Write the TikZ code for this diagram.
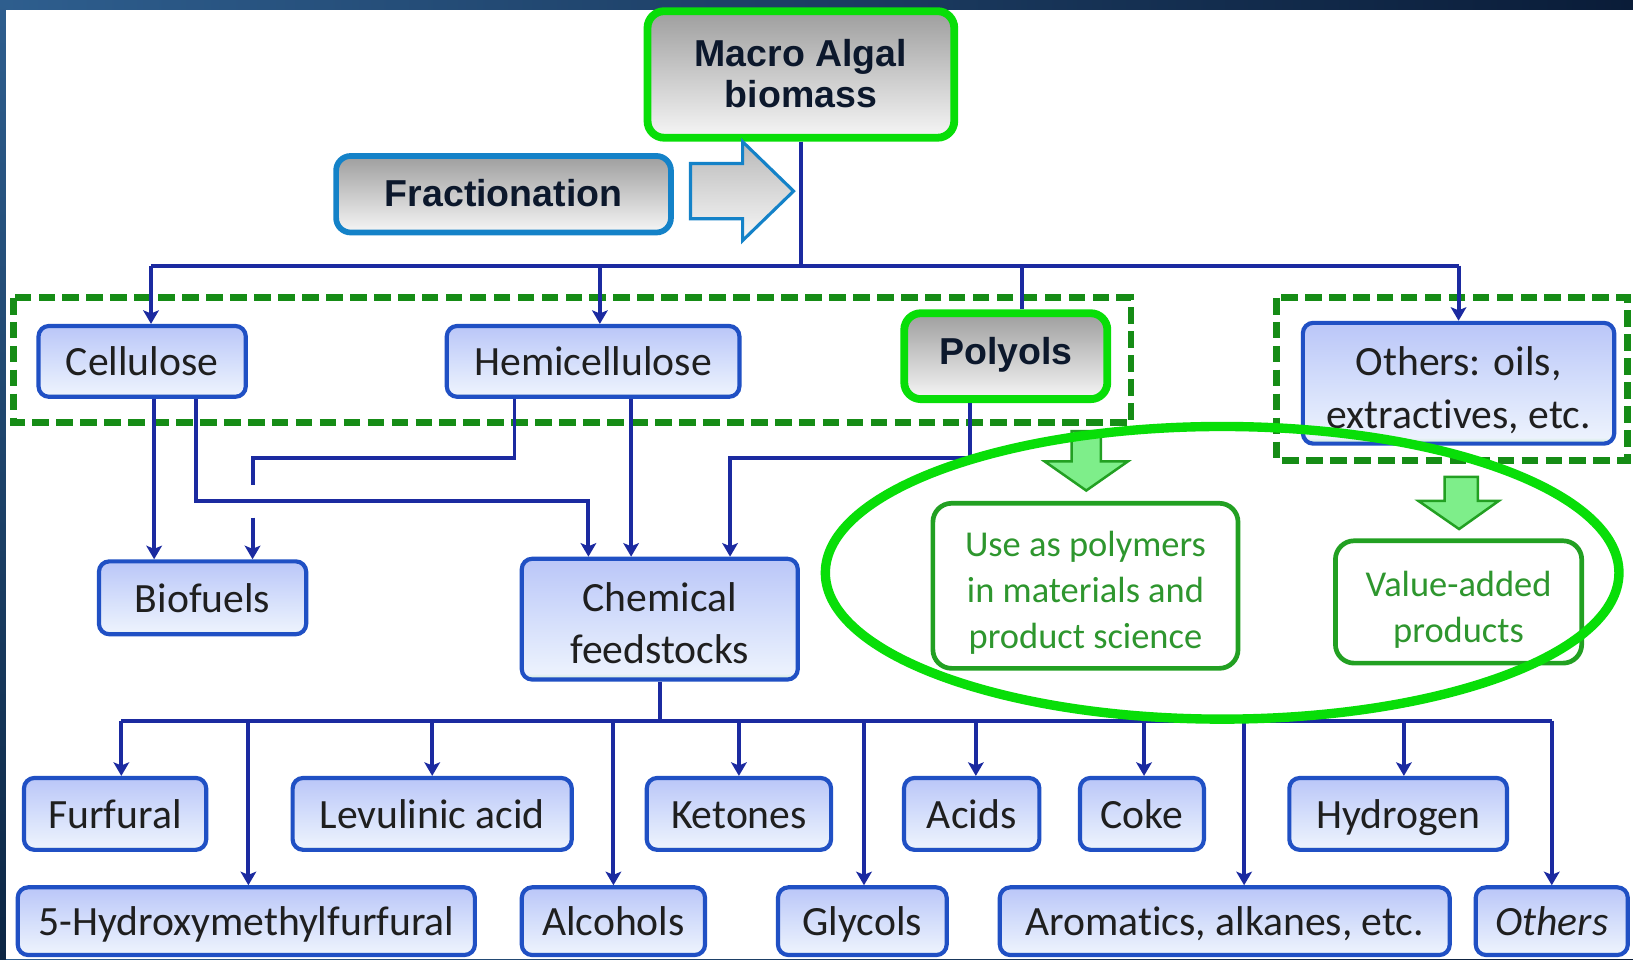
\documentclass[tikz,border=0pt]{standalone}
\usepackage{fontspec}
\setmainfont{Carlito}[Ligatures={NoCommon}]
\newfontfamily\arialf{Liberation Sans}
\usetikzlibrary{arrows.meta,calc}

\definecolor{connc}{RGB}{27,42,160}
\definecolor{bxborder}{RGB}{32,80,196}
\definecolor{bxtop}{RGB}{186,198,248}
\definecolor{bxmid}{RGB}{212,222,251}
\definecolor{bxbot}{RGB}{236,242,253}
\definecolor{bxgreen}{RGB}{196,234,206}
\definecolor{dashgreen}{RGB}{22,140,22}
\definecolor{brightgreen}{RGB}{8,222,8}
\definecolor{greentxt}{RGB}{46,150,46}
\definecolor{graytop}{RGB}{158,158,158}
\definecolor{graybot}{RGB}{246,246,246}
\definecolor{fracblue}{RGB}{20,130,200}
\definecolor{navytxt}{RGB}{12,24,44}
\definecolor{arrfill}{RGB}{126,238,138}
\definecolor{arrdraw}{RGB}{34,160,34}
\definecolor{bgL}{RGB}{46,94,142}
\definecolor{bgR}{RGB}{10,28,56}
\definecolor{bgB}{RGB}{12,38,68}

\pgfdeclareverticalshading{bluebx}{100bp}{color(0bp)=(bxgreen); color(25bp)=(bxgreen); color(27.5bp)=(bxbot); color(50bp)=(bxmid); color(75bp)=(bxtop); color(100bp)=(bxtop)}

\newcommand\bxnode[8]{%
  \pgfmathsetmacro\bxw{(#6-#4-#3)*0.5}%
  \pgfmathsetmacro\bxh{(#7-#5-#3)*0.5}%
  \node[#1, minimum width=\bxw pt, minimum height=\bxh pt] (#2) at ({(#4+#6)/2},{(#5+#7)/2}) {#8};}
% first-line strut that lowers the text block by #1
\newcommand\fl[1]{\rule{0pt}{\dimexpr 0.7\baselineskip+#1*2\relax}}

\tikzset{
  one/.style={execute at begin node={\fl{#1}}, execute at end node={\strut}},
  bluebox/.style={draw=bxborder, line width=2pt, rounded corners=5pt, shading=bluebx,
    font=\fontsize{20}{25}\selectfont, text=black!88, align=center, inner sep=0pt},
  graybox/.style={draw=brightgreen, line width=3.75pt, rounded corners=8pt,
    top color=graytop, bottom color=graybot,
    font=\arialf\bfseries\fontsize{18}{20}\selectfont, text=navytxt, align=center, inner sep=0pt},
  fracbox/.style={graybox, draw=fracblue, line width=2.75pt, rounded corners=7pt},
  greenbox/.style={draw=arrdraw, line width=2.25pt, rounded corners=9pt, fill=white,
    text=greentxt, font=\fontsize{17.5}{22}\selectfont, align=center, inner sep=0pt},
  blue1/.style={bluebox, one=2pt},
  groupbox/.style={draw=dashgreen, line width=3.25pt, dash pattern=on 8pt off 3.5pt},
  conn/.style={draw=connc, line width=1.9pt},
  arr/.style={conn, -{Stealth[length=6.5pt,width=7.5pt,inset=1.5pt]}},
  halo/.style={draw=brightgreen, line width=4.5pt},
  blockarr/.style={draw=fracblue, line width=1.5pt, top color=gray!55, bottom color=gray!6},
  greenarr/.style={draw=arrdraw, line width=1.2pt, fill=arrfill},
}

\begin{document}
\begin{tikzpicture}[x=0.5pt,y=-0.5pt]
\useasboundingbox (0,0) rectangle (1568,921);
% slide background
\fill[left color=bgL, right color=bgR] (0,0) rectangle (1568,921);
\fill[top color=bgL, bottom color=bgB] (0,0) rectangle (6,921);
\fill[white] (6,9.6) rectangle (1568,921);

% dashed group frames
\draw[groupbox] (13,286) rectangle (1086,406);
\draw[groupbox] (1226,286) rectangle (1563,442);

% nodes
\bxnode{graybox}{macro}{7.5}{618}{7}{920}{136}{\fl{2pt}Macro Algal\\biomass\strut}
\bxnode{fracbox,one=2pt}{frac}{5.5}{320}{147}{647}{226}{Fractionation}
\bxnode{blue1}{cell}{4}{35}{311}{238}{383}{Cellulose}
\bxnode{blue1}{hemi}{4}{427}{311}{712}{383}{Hemicellulose}
\bxnode{graybox,one=0pt}{poly}{7.5}{864.5}{297}{1067}{387}{Polyols}
\bxnode{bluebox}{oth}{4}{1249}{310}{1552}{426}{\fl{4pt}Others: oils,\\extractives, etc.\strut}
\bxnode{blue1}{bio}{4}{93}{537}{296}{611}{Biofuels}
\bxnode{bluebox}{chem}{4}{499}{537}{768}{652}{\fl{4pt}Chemical\\feedstocks\strut}
\bxnode{greenbox}{use}{4.5}{893.5}{481}{1191}{644}{\fl{3.5pt}Use as polymers\\in materials and\\product science\strut}
\bxnode{greenbox}{val}{4.5}{1280}{517}{1521}{639}{\fl{4pt}Value-added\\products\strut}
\bxnode{blue1}{furf}{4}{21}{745}{200}{818}{Furfural}
\bxnode{blue1}{lev}{4}{279}{745}{551}{818}{Levulinic acid}
\bxnode{blue1}{ket}{4}{619}{745}{800}{818}{Ketones}
\bxnode{blue1}{acid}{4}{866}{745}{1000}{818}{Acids}
\bxnode{blue1}{coke}{4}{1035}{745}{1158}{818}{Coke}
\bxnode{blue1}{hyd}{4}{1236}{745}{1449}{818}{Hydrogen}
\bxnode{blue1}{hmf}{4}{15}{850}{458}{919}{5-Hydroxymethylfurfural}
\bxnode{blue1}{alc}{4}{499}{850}{679}{919}{Alcohols}
\bxnode{blue1}{gly}{4}{745}{850}{911}{919}{Glycols}
\bxnode{blue1}{aro}{4}{958}{850}{1394}{919}{Aromatics, alkanes, etc.}
\bxnode{blue1}{othr}{4}{1415}{850}{1565}{919}{\itshape Others}

% fractionation block arrow
\draw[blockarr] (663,157) -- (713,157) -- (713,136) -- (762,183.5) -- (713,231) -- (713,210) -- (663,210) -- cycle;

% top distribution
\coordinate (j0) at (769,255);
\coordinate (cellin) at ([xshift=4.25pt]cell.north);
\coordinate (hemiin) at ([xshift=3.25pt]hemi.north);
\coordinate (polyin) at ([xshift=7.6pt]poly.north);
\draw[conn] (macro.south) -- (j0);
\draw[conn] (cellin |- j0) -- (oth.north |- j0);
\draw[arr] (cellin |- j0) -- (cellin);
\draw[arr] (hemiin |- j0) -- (hemiin);
\draw[conn] (polyin |- j0) -- (polyin);
\draw[arr] (oth.north |- j0) -- (oth.north);

% second level
\coordinate (r1) at (0,481);
\coordinate (r2) at (0,439.6);
\coordinate (r3) at (0,466);
\coordinate (r4) at (0,497);
\coordinate (cellA) at ([xshift=5.75pt]cell.south);
\coordinate (cellB) at ([xshift=25.75pt]cell.south);
\coordinate (hemiA) at ([xshift=-37.75pt]hemi.south);
\coordinate (hemiB) at ([xshift=18.25pt]hemi.south);
\coordinate (polyA) at ([xshift=-17.4pt]poly.south);
\coordinate (bioB) at ([xshift=24pt]bio.north);
\coordinate (chemA) at ([xshift=-34.25pt]chem.north);
\coordinate (chemC) at ([xshift=33.75pt]chem.north);
\draw[arr] (cellA) -- (cellA |- bio.north);
\draw[conn] (hemiA) |- (bioB |- r2) -- (bioB |- r3);
\draw[arr] (bioB |- r4) -- (bioB);
\draw[arr] (cellB) |- (chemA |- r1) -- (chemA);
\draw[arr] (hemiB) -- (hemiB |- chem.north);
\draw[arr] (polyA) |- (chemC |- r2) -- (chemC);

% product level
\coordinate (j1) at (635,692);
\coordinate (furfin) at ([xshift=3pt]furf.north);
\coordinate (hmfin) at ([xshift=1pt]hmf.north);
\coordinate (glyin) at ([xshift=0.8pt]gly.north);
\coordinate (acidin) at ([xshift=2pt]acid.north);
\coordinate (cokein) at ([xshift=1pt]coke.north);
\coordinate (aroin) at ([xshift=9.3pt]aro.north);
\coordinate (hydin) at ([xshift=2.75pt]hyd.north);
\draw[conn] (chem.south) -- (chem.south |- j1);
\draw[conn] (furfin |- j1) -- (othr.north |- j1);
\foreach \t in {furfin,hmfin,lev.north,alc.north,ket.north,glyin,acidin,cokein,aroin,hydin,othr.north}
  \draw[arr] (\t |- j1) -- (\t);

% green block arrows
\draw[greenarr] (1029,414) -- (1057,414) -- (1057,443) -- (1083,443) -- (1043,471) -- (1003,443) -- (1029,443) -- cycle;
\draw[greenarr] (1387,458) -- (1419,458) -- (1419,481) -- (1439,481) -- (1401,508) -- (1362,481) -- (1387,481) -- cycle;

% highlight ellipse
\draw[halo] (1173.5,550) ellipse [x radius=190.5pt, y radius=70.25pt];
\end{tikzpicture}
\end{document}
